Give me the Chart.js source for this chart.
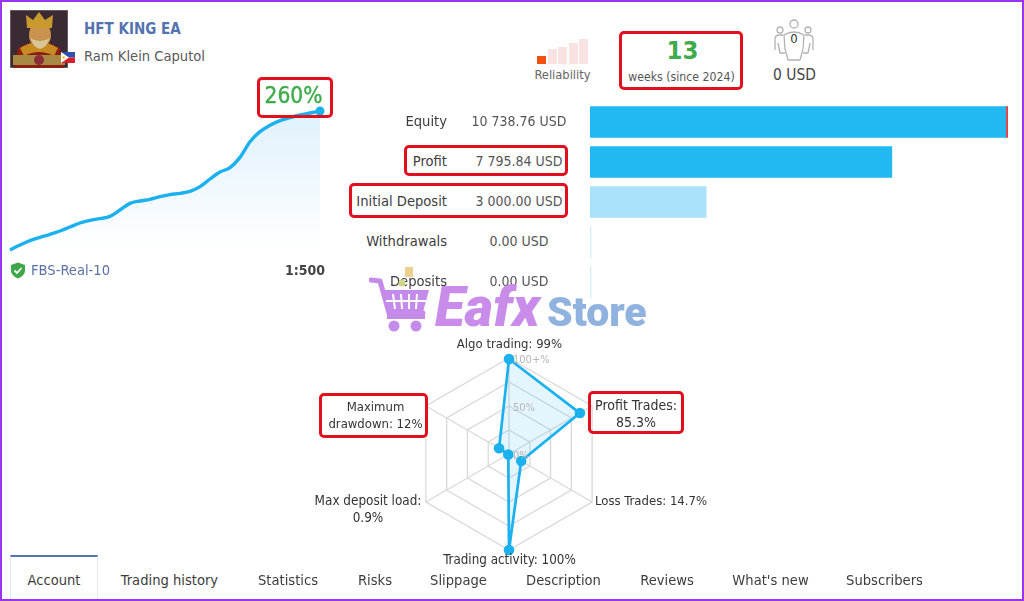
<!DOCTYPE html>
<html><head><meta charset="utf-8">
<script src="https://cdn.jsdelivr.net/npm/chart.js@4"></script>
<style>
html,body{margin:0;padding:0;background:#fff}
body{width:1024px;height:601px;position:relative;overflow:hidden;font-family:"DejaVu Sans Condensed","DejaVu Sans",sans-serif;font-stretch:condensed;font-size:14px;color:#3c3c3c}
.t{position:absolute;white-space:nowrap;line-height:18px}
.c{transform:translateX(-50%);text-align:center}
.r{transform:translateX(-100%);text-align:right}
.box{position:absolute;border:3px solid #e2101e;border-radius:5px;box-sizing:border-box}
canvas{position:absolute}
#frame{position:absolute;left:0;top:0;width:1024px;height:601px;box-sizing:border-box;border:2px solid #9a35ee;pointer-events:none;z-index:50}
svg{position:absolute}
</style></head><body>
<div id="frame"></div>

<svg style="left:10px;top:10px" width="58" height="58" viewBox="0 0 58 58">
<rect width="58" height="58" fill="#3a2a33"/><rect x="0" y="0" width="58" height="58" fill="none" stroke="#8f8a80"/>
<path d="M4 58 L8 38 Q18 32 29 32 Q40 32 50 38 L54 58Z" fill="#8c1f12"/>
<path d="M10 38 Q29 26 48 38 L44 46 Q29 38 14 46Z" fill="#c78b22"/>
<ellipse cx="30" cy="25" rx="11" ry="13" fill="#c9924e"/>
<path d="M20 28 Q30 50 40 28 Q30 34 20 28Z" fill="#d8c596"/>
<path d="M17 18 L16 5 L23 10 L29 2 L35 10 L43 5 L42 18Z" fill="#c89a2e"/>
<rect x="3" y="45" width="52" height="10" fill="#a98a45"/><circle cx="29" cy="50" r="5" fill="#8c2d35"/>
</svg>
<svg style="left:61px;top:52px" width="14" height="11" viewBox="0 0 14 11"><rect width="14" height="5.5" fill="#2a50b0"/><rect y="5.5" width="14" height="5.5" fill="#d8202c"/><path d="M0 0L8 5.5L0 11Z" fill="#fff"/><circle cx="2.6" cy="5.5" r="1.3" fill="#f2c81e"/></svg>
<div class="t" style="left:84px;top:20px;font-size:15px;font-weight:bold;color:#5273b0">HFT KING EA</div>
<div class="t" style="left:84px;top:47px;font-size:14.6px;color:#5a5a5a">Ram Klein Caputol</div>

<canvas id="growth" width="334" height="170" style="left:0;top:100px;width:334px;height:170px"></canvas>
<div class="box" style="left:257px;top:77px;width:76px;height:41px"></div>
<div class="t" style="left:293.5px;top:81px;font-size:22.5px;line-height:28px;color:#3fab4a;-webkit-text-stroke:.4px #3fab4a;transform:translateX(-50%)" id="gain"></div>

<svg style="left:10px;top:262px" width="16" height="17" viewBox="0 0 16 17"><path d="M8 0.5 L15 3 V8.5 Q15 13.5 8 16.5 Q1 13.5 1 8.5 V3Z" fill="#3fa64a"/><path d="M4.5 8.5 L7 11 L11.5 6" fill="none" stroke="#fff" stroke-width="1.8"/></svg>
<div class="t" style="left:31px;top:261px;font-size:14.6px;color:#5b72a6">FBS-Real-10</div>
<div class="t" style="left:325px;top:261px;font-weight:bold;color:#444;transform:translateX(-100%)">1:500</div>

<svg style="left:537px;top:39px" width="52" height="26" viewBox="0 0 52 26">
<rect x="0" y="17" width="9" height="8" fill="#f2500f"/><rect x="11" y="10" width="9" height="15" fill="#f9e2e2"/><rect x="21" y="8" width="9" height="17" fill="#f9e2e2"/><rect x="32" y="4" width="9" height="21" fill="#f9e2e2"/><rect x="42" y="0" width="9" height="25" fill="#f9e2e2"/></svg>
<div class="t c" style="left:562.5px;top:66px;font-size:12.8px;color:#666">Reliability</div>

<div class="box" style="left:619px;top:31px;width:124px;height:59px"></div>
<div class="t c" style="left:682.5px;top:34px;font-size:25.5px;line-height:32px;font-weight:bold;color:#3fab4a">13</div>
<div class="t c" style="left:681.5px;top:68px;font-size:12.2px;color:#555">weeks (since 2024)</div>

<svg style="left:772px;top:19px" width="44" height="43" viewBox="0 0 44 43" fill="none" stroke="#b3b3b3" stroke-width="1.3">
<circle cx="22" cy="5" r="4"/><circle cx="8" cy="11" r="3"/><circle cx="36" cy="11" r="3"/>
<path d="M3 31 V20 Q3 16 8 16 L11 16 M41 31 V20 Q41 16 36 16 L33 16 M12 16 Q22 10 32 16 L31 30 L28 41 H16 L13 30Z M6 24 L8 34 H13 M38 24 L36 34 H31"/></svg>
<div class="t c" style="left:794px;top:30px;font-size:13px;color:#333">0</div>
<div class="t c" style="left:794.5px;top:66px;font-size:15.4px;color:#444">0 USD</div>

<div id="table"></div>
<div class="box" style="left:404px;top:145px;width:164px;height:31px"></div>
<div class="box" style="left:349px;top:183px;width:219px;height:35px"></div>
<canvas id="bars" width="424" height="200" style="left:590px;top:102px;width:424px;height:200px"></canvas>

<canvas id="radar" width="212" height="212" style="left:403px;top:348px;width:212px;height:212px"></canvas>
<div id="radarLabels"></div>
<div class="box" style="left:319px;top:393px;width:109px;height:45px"></div>
<div class="box" style="left:588px;top:391px;width:96px;height:43px"></div>

<div style="position:absolute;left:10px;top:555px;width:88px;height:46px;box-sizing:border-box;border:1px solid #e4e8f0;border-top:2px solid #5273b0;border-bottom:none"></div>
<div id="tabs"></div>

<svg style="left:369px;top:277px;z-index:5" width="62" height="56" viewBox="0 0 62 56">
<path d="M2 3 L11 4 L20 36 H54" fill="none" stroke="#c58bea" stroke-width="5" stroke-linecap="round"/>
<path d="M14 13 H60 L54 35 H20Z" fill="#c58bea"/>
<g stroke="#fff" stroke-width="2"><path d="M24 17 L26 32 M32 17 L33 32 M40 17 L40 32 M48 17 L47 32 M17 24 H57"/></g>
<rect x="18" y="38" width="38" height="4" fill="#c58bea"/>
<circle cx="25" cy="49" r="5.5" fill="#c58bea"/><circle cx="47" cy="49" r="5.5" fill="#c58bea"/></svg>
<svg style="left:396px;top:266px;z-index:5" width="20" height="24" viewBox="0 0 20 24"><rect x="9" y="1" width="8" height="10" fill="#edd08f"/><circle cx="6" cy="17" r="3.5" fill="#d2d68a"/></svg>
<div class="t" style="left:435px;top:280px;z-index:6;font-family:Roboto;font-stretch:normal;font-weight:900;font-style:italic;font-size:55px;line-height:54px;color:#c98ceb" id="wm1">Eafx</div>
<div class="t" style="left:547px;top:289px;z-index:6;font-family:Roboto;font-stretch:normal;font-weight:900;font-size:41px;line-height:46px;color:#8fb2df" id="wm2">Store</div>

<script>
// ----- data -----
const growthPercent=[0,9.4,17.5,23.7,29.3,35.5,43.0,50.5,55.5,58.6,63.0,74.8,87.3,91.7,94.8,99.8,103.5,106.0,109.7,118.5,132.8,145.9,154,173.3,202.6,221.3,233.2,241.9,247.5,252.5,256.3,260];
const finalGain="260%";
const accountRows=["Equity","Profit","Initial Deposit","Withdrawals","Deposits"];
const accountValues=[10738.76,7795.84,3000,0,0];
const accountText=["10 738.76 USD","7 795.84 USD","3 000.00 USD","0.00 USD","0.00 USD"];
const accountColours=["#22b8f2","#22b8f2","#a9e2fa","#d4eefb","#d4eefb"];
const equityGap=[57.08,null,null,null,null];
const balance=10795.84;
const radarAxes=["Algo trading","Profit Trades","Loss Trades","Trading activity","Max deposit load","Maximum drawdown"];
const radarValues=[99,85.3,14.7,100,0.9,12];
const radarTickValues=[100,50,0];
const radarTickText=["100+%","50%","0%"];
const tabNames=["Account","Trading history","Statistics","Risks","Slippage","Description","Reviews","What's new","Subscribers"];
// ----- text placement -----
function add(parent,cls,style,html){const d=document.createElement('div');d.className='t '+cls;d.style.cssText=style;d.innerHTML=html;document.getElementById(parent).appendChild(d);}
document.getElementById('gain').textContent=finalGain;
accountRows.forEach((n,i)=>{const y=112+40*i;
  add('table','r',`left:447px;top:${y}px;font-size:14.6px`,n);
  add('table','c',`left:519px;top:${y}px;color:#555`,accountText[i]);});
const labelSpots=[[509.5,335,13,"Algo trading: 99%"],[636,397,14,"Profit Trades:<br>85.3%"],[651,492,13,"Loss Trades: 14.7%"],[509.5,551,13.3,"Trading activity: 100%"],[368,492,13.4,"Max deposit load:<br>0.9%"],[375.5,398,13,"Maximum<br>drawdown: 12%"]];
labelSpots.forEach(s=>add('radarLabels','c',`left:${s[0]}px;top:${s[1]}px;font-size:${s[2]}px;line-height:17px;color:#333`,s[3]));
const tabX=[54,169.5,288,375,458.5,563.5,667,770.5,884.5];
tabNames.forEach((n,i)=>add('tabs','c',`left:${tabX[i]}px;top:571px;font-size:14.6px;color:#3c3c3c`,n));

// ----- charts -----
const blue='#1bb0ee';
new Chart(document.getElementById('growth'),{type:'line',
 data:{labels:growthPercent.map((_,i)=>i),datasets:[{data:growthPercent,clip:false,borderColor:blue,borderWidth:3.4,cubicInterpolationMode:'monotone',
   pointRadius:c=>c.dataIndex===growthPercent.length-1?4.5:0,pointBackgroundColor:blue,pointBorderWidth:0,fill:'origin',
   backgroundColor:c=>{const a=c.chart.chartArea;if(!a)return 'transparent';const g=c.chart.ctx.createLinearGradient(0,a.top,0,a.bottom);g.addColorStop(0,'#e0f1fc');g.addColorStop(.55,'#f1f9fe');g.addColorStop(1,'#ffffff');return g;}}]},
 options:{responsive:false,animation:false,layout:{padding:{left:10,right:14,top:11,bottom:20}},
  plugins:{legend:{display:false},tooltip:{enabled:false}},
  scales:{x:{display:false,offset:false},y:{display:false,min:0,max:260}}}});

new Chart(document.getElementById('bars'),{type:'bar',
 data:{labels:accountRows,datasets:[
  {data:accountValues,backgroundColor:accountColours,barThickness:31,minBarLength:1,stack:'a'},
  {data:equityGap,backgroundColor:'#e8433a',barThickness:31,stack:'a'}]},
 options:{indexAxis:'y',responsive:false,animation:false,layout:{padding:{left:0,right:6}},
  plugins:{legend:{display:false},tooltip:{enabled:false}},
  scales:{x:{display:false,stacked:true,min:0,max:balance},y:{display:false,stacked:true}}}});

const radarTickPlugin={id:'radarTicks',afterDatasetsDraw(ch){const s=ch.scales.r,ctx=ch.ctx;ctx.save();ctx.fillStyle='#b5b5b5';ctx.font='11px "DejaVu Sans Condensed","DejaVu Sans"';ctx.textBaseline='middle';ctx.textAlign='left';
  radarTickValues.forEach((v,i)=>ctx.fillText(radarTickText[i],s.xCenter+4,s.yCenter-s.getDistanceFromCenterForValue(v)+2));ctx.restore();}};
new Chart(document.getElementById('radar'),{type:'radar',
 data:{labels:radarAxes,datasets:[{data:radarValues,borderColor:blue,borderWidth:2.7,backgroundColor:'rgba(70,185,240,.14)',fill:true,tension:0,pointRadius:5.3,pointBackgroundColor:blue,pointBorderWidth:0}]},
 options:{responsive:false,animation:false,layout:{padding:10},
  plugins:{legend:{display:false},tooltip:{enabled:false}},
  scales:{r:{min:0,max:100,ticks:{display:false,stepSize:25},pointLabels:{display:false},grid:{color:'#d9d9d9',lineWidth:1.3},angleLines:{color:'#d9d9d9',lineWidth:1.3}}}},
 plugins:[radarTickPlugin]});
</script>
</body></html>
